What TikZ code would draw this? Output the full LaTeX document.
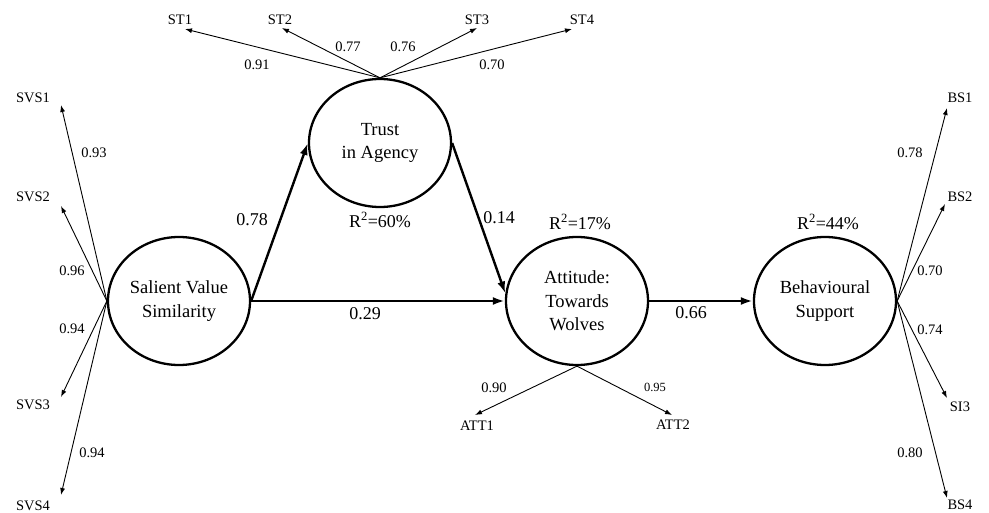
\documentclass[tikz,border=0pt]{standalone}
\usepackage{fontspec}
\setmainfont{Liberation Serif}
\usetikzlibrary{arrows.meta,shapes.geometric}
\begin{document}
\begin{tikzpicture}[x=1pt,y=-1pt,
  latent/.style={ellipse,draw,line width=2.3pt,minimum width=142pt,minimum height=128pt,inner sep=0pt,align=center,font=\fontsize{18.5}{23.5}\selectfont},
  ind/.style={font=\fontsize{14.5}{16}\selectfont,inner sep=1pt},
  load/.style={font=\fontsize{14.5}{16}\selectfont,inner sep=1pt},
  smallload/.style={font=\fontsize{12.5}{14}\selectfont,inner sep=1pt},
  coef/.style={font=\fontsize{18}{20}\selectfont,inner sep=1pt},
  thinarrow/.style={line width=0.9pt,-{Latex[length=7pt,width=5pt]}},
  thickarrow/.style={line width=2.4pt,-{Latex[length=12pt,width=8pt]}}]
\useasboundingbox (0,0) rectangle (989,513);

% latent variables
\node[latent] (trust) at (380,143) {Trust\\in Agency};
\node[latent] (svs) at (179,301) {Salient Value\\Similarity};
\node[latent] (att) at (577,301) {Attitude:\\Towards\\Wolves};
\node[latent] (bs) at (825,301) {Behavioural\\Support};

% R squared
\node[coef] (r1) at (380,220) {R\textsuperscript{2}=60\%};
\node[coef] (r2) at (580,222) {R\textsuperscript{2}=17\%};
\node[coef] (r3) at (828,222) {R\textsuperscript{2}=44\%};

% structural paths
\draw[thickarrow] (svs.east) -- (trust.west);
\draw[thickarrow] (trust.east) -- (att.174);
\draw[thickarrow] (svs.east) -- (att.west);
\draw[thickarrow] (att.east) -- (bs.west);
\node[coef] (c1) at (252,220) {0.78};
\node[coef] (c2) at (499,218) {0.14};
\node[coef] (c3) at (365,314) {0.29};
\node[coef] (c4) at (691,313) {0.66};

% ST indicators
\node[ind] (st1) at (180,20) {ST1};
\node[ind] (st2) at (280,20) {ST2};
\node[ind] (st3) at (477,20) {ST3};
\node[ind] (st4) at (582,20) {ST4};
\coordinate (st1t) at (185,29);
\coordinate (st2t) at (282,28);
\coordinate (st3t) at (477,28);
\coordinate (st4t) at (572,29);
\draw[thinarrow] (trust.north) -- (st1t);
\draw[thinarrow] (trust.north) -- (st2t);
\draw[thinarrow] (trust.north) -- (st3t);
\draw[thinarrow] (trust.north) -- (st4t);
\node[load] (l1) at (257,65) {0.91};
\node[load] (l2) at (348,47) {0.77};
\node[load] (l3) at (403,47) {0.76};
\node[load] (l4) at (492,65) {0.70};

% SVS indicators
\node[ind] (svs1) at (33,98) {SVS1};
\node[ind] (svs2) at (33,197) {SVS2};
\node[ind] (svs3) at (33,405) {SVS3};
\node[ind] (svs4) at (33,506) {SVS4};
\coordinate (svs1t) at (61,105);
\coordinate (svs2t) at (61,206);
\coordinate (svs3t) at (61,397);
\coordinate (svs4t) at (61,495);
\draw[thinarrow] (svs.west) -- (svs1t);
\draw[thinarrow] (svs.west) -- (svs2t);
\draw[thinarrow] (svs.west) -- (svs3t);
\draw[thinarrow] (svs.west) -- (svs4t);
\node[load] (l5) at (94,153) {0.93};
\node[load] (l6) at (72,271) {0.96};
\node[load] (l7) at (72,329) {0.94};
\node[load] (l8) at (92,453) {0.94};

% ATT indicators
\node[ind] (att1) at (477,426) {ATT1};
\node[ind] (att2) at (673,425) {ATT2};
\coordinate (att1t) at (475,415);
\coordinate (att2t) at (672,415);
\draw[thinarrow] (att.south) -- (att1t);
\draw[thinarrow] (att.south) -- (att2t);
\node[load] (l9) at (494,388) {0.90};
\node[smallload] (l10) at (655,387) {0.95};

% BS indicators
\node[ind] (bs1) at (960,98) {BS1};
\node[ind] (bs2) at (960,197) {BS2};
\node[ind] (si3) at (960,407) {SI3};
\node[ind] (bs4) at (960,505) {BS4};
\coordinate (bs1t) at (947,108);
\coordinate (bs2t) at (945,204);
\coordinate (si3t) at (947,398);
\coordinate (bs4t) at (947,498);
\draw[thinarrow] (bs.east) -- (bs1t);
\draw[thinarrow] (bs.east) -- (bs2t);
\draw[thinarrow] (bs.east) -- (si3t);
\draw[thinarrow] (bs.east) -- (bs4t);
\node[load] (l11) at (910,153) {0.78};
\node[load] (l12) at (930,271) {0.70};
\node[load] (l13) at (930,330) {0.74};
\node[load] (l14) at (910,453) {0.80};
\end{tikzpicture}
\end{document}
